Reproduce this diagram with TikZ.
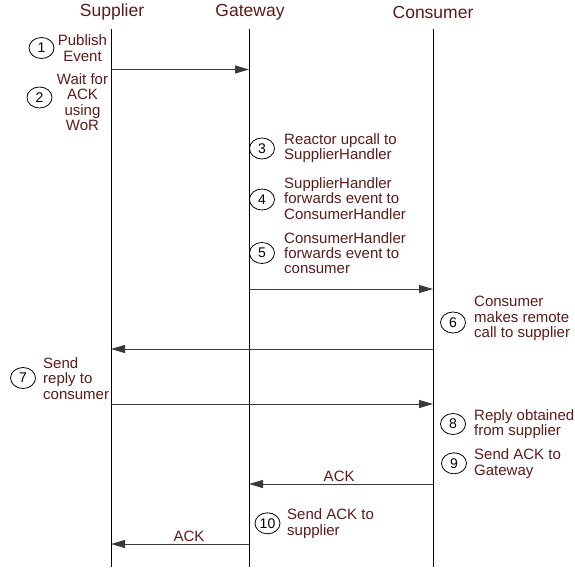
\documentclass[tikz,border=0pt]{standalone}
\usepackage{fontspec}
\setmainfont{Liberation Sans}
\usetikzlibrary{arrows.meta,shapes.geometric}
\definecolor{maroon}{HTML}{5E1A1A}
\definecolor{arrowgray}{HTML}{3A3A3A}
\tikzset{
  hdr/.style={text=maroon,font=\fontsize{17.5}{20}\selectfont,inner sep=0pt},
  life/.style={draw=black,line width=0.9pt},
  msg/.style={draw=arrowgray,line width=1pt,-{Triangle[length=14pt,width=8pt]}},
  num/.style={draw=black,ellipse,line width=0.8pt,minimum width=25pt,minimum height=21pt,inner sep=0pt,font=\fontsize{14}{14}\selectfont},
  lbl/.style={text=maroon,font=\fontsize{15}{15.3}\selectfont,inner sep=0pt,align=left},
  clbl/.style={text=maroon,font=\fontsize{15}{15.3}\selectfont,inner sep=0pt,align=center},
  acklbl/.style={above=2pt,text=maroon,font=\fontsize{15}{15}\selectfont,inner sep=0pt},
}
\begin{document}
\begin{tikzpicture}[x=1pt,y=-1pt]
\useasboundingbox (0,0) rectangle (575,567);
% headers
\node[hdr] (hs) at (112,12) {Supplier};
\node[hdr] (hg) at (250,12) {Gateway};
\node[hdr] (hc) at (433,12) {Consumer};
% lifelines
\coordinate (st) at (111,29); \coordinate (sb) at (111,567);
\coordinate (gt) at (249,29); \coordinate (gb) at (249,567);
\coordinate (ct) at (433,29); \coordinate (cb) at (433,567);
\draw[life] (st) -- (sb);
\draw[life] (gt) -- (gb);
\draw[life] (ct) -- (cb);
% message end points
\coordinate (s1) at (111,69.5); \coordinate (g1) at (249,69.5);
\coordinate (g5) at (249,289); \coordinate (c5) at (433,289);
\coordinate (c6) at (433,349); \coordinate (s6) at (111,349);
\coordinate (s7) at (111,404); \coordinate (c7) at (433,404);
\coordinate (c9) at (433,484); \coordinate (g9) at (249,484);
\coordinate (g10) at (249,544); \coordinate (s10) at (111,544);
\draw[msg] (s1) -- (g1);
\draw[msg] (g5) -- (c5);
\draw[msg] (c6) -- (s6);
\draw[msg] (s7) -- (c7);
\draw[msg] (c9) -- node[acklbl,pos=0.51] (ack1) {ACK} (g9);
\draw[msg] (g10) -- node[acklbl,pos=0.435] (ack2) {ACK} (s10);
% numbered steps
\node[num] (n1) at (41.5,48) {1};
\node[clbl] (t1) at (82.5,48) {Publish\\Event};
\node[num] (n2) at (39.5,97.5) {2};
\node[clbl] (t2) at (82.5,102) {Wait for\\ACK\\using\\WoR};
\node[num] (n3) at (262,148.5) {3};
\node[lbl,anchor=west] (t3) at (284,148) {Reactor upcall to\\SupplierHandler};
\node[num] (n4) at (262,199.5) {4};
\node[lbl,anchor=west] (t4) at (284,198.5) {SupplierHandler\\forwards event to\\ConsumerHandler};
\node[num] (n5) at (262,253) {5};
\node[lbl,anchor=west] (t5) at (284,253) {ConsumerHandler\\forwards event to\\consumer};
\node[num] (n6) at (453,322.5) {6};
\node[lbl,anchor=west] (t6) at (474,318.5) {Consumer\\makes remote\\call to supplier};
\node[num] (n7) at (23,378) {7};
\node[lbl,anchor=west] (t7) at (43,378.5) {Send\\reply to\\consumer};
\node[num] (n8) at (453,424) {8};
\node[lbl,anchor=west] (t8) at (474,424) {Reply obtained\\from supplier};
\node[num] (n9) at (454,463.3) {9};
\node[lbl,anchor=west] (t9) at (474,463.5) {Send ACK to\\Gateway};
\node[num] (n10) at (267.5,523.3) {10};
\node[lbl,anchor=west] (t10) at (287,523.5) {Send ACK to\\supplier};
\end{tikzpicture}
\end{document}
